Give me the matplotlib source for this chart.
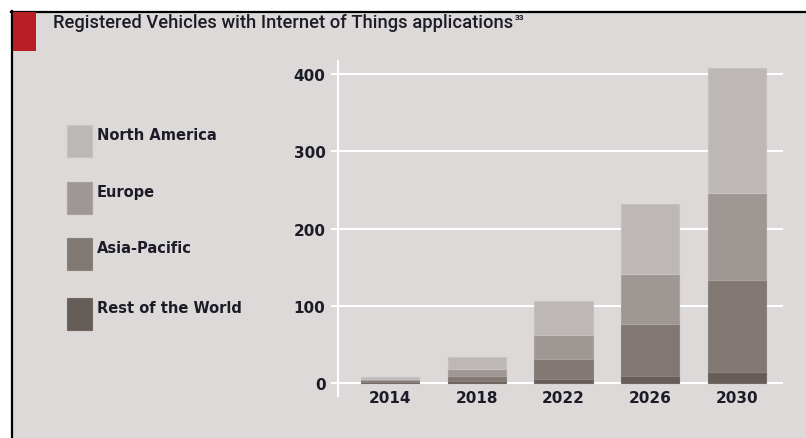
import matplotlib
matplotlib.use("Agg")
import matplotlib.pyplot as plt
from matplotlib.patches import Rectangle
import numpy as np

years = ["2014", "2018", "2022", "2026", "2030"]
rest_of_world = [1, 3.5, 5, 10, 15]
asia_pacific = [3, 6.5, 26.5, 67, 119]
europe = [2, 8.5, 31.5, 64, 112]
north_america = [2, 16, 44, 91, 162]
series_names = ["Rest of the World", "Asia-Pacific", "Europe", "North America"]
yticks = [0, 100, 200, 300, 400]
title = "Registered Vehicles with Internet of Things applications"
footnote = "33"

colors = {"North America": "#bdb8b5", "Europe": "#9f9793", "Asia-Pacific": "#817873", "Rest of the World": "#675d58"}
edge = {"North America": "#c6c2bf", "Europe": "#aaa29e", "Asia-Pacific": "#8c837e", "Rest of the World": "#726863"}
bg = "#dcd9d8"
txt = "#1c1c28"
bold_font = ["DejaVu Sans"]

fig = plt.figure(figsize=(8.06, 4.39), dpi=100)
W, H = 806, 439
# background panel and frame
fig.patches.append(Rectangle((12 / W, 0), 1, 1 - 13 / H, transform=fig.transFigure, facecolor=bg, edgecolor="none", zorder=-5))
fig.add_artist(plt.Line2D([11.5 / W, 11.5 / W], [0, 1 - 12 / H], transform=fig.transFigure, color="black", lw=1.6, zorder=-4))
fig.add_artist(plt.Line2D([11 / W, 1], [1 - 12.5 / H, 1 - 12.5 / H], transform=fig.transFigure, color="black", lw=1.6, zorder=-4))
fig.patches.append(Rectangle((12.5 / W, 1 - 52 / H), 23 / W, 39 / H, transform=fig.transFigure, facecolor="#b81f24", edgecolor="none", zorder=-3))
fig.text(53 / W, 1 - 23 / H, title, fontsize=13.2, family=["Roboto", "DejaVu Sans"], fontweight="medium", color=txt, va="center", ha="left")

ax = fig.add_axes([338 / W, 1 - 397 / H, (783 - 338) / W, (397 - 62) / H])
ax.set_zorder(5)
ax.set_facecolor("none")
x = np.arange(len(years))
bottom = np.zeros(len(years))
data = {"Rest of the World": rest_of_world, "Asia-Pacific": asia_pacific, "Europe": europe, "North America": north_america}
for name in series_names:
    vals = np.array(data[name], dtype=float)
    ax.bar(x, vals, width=0.67, bottom=bottom, color=colors[name], edgecolor=edge[name], linewidth=0.8, zorder=3)
    bottom += vals

ax.set_xlim(-0.6, 4.53)
ax.set_ylim(-16.5, 417)
ax.set_yticks(yticks)
ax.set_yticklabels([str(t) for t in yticks])
ax.set_xticks(x)
ax.set_xticklabels(years)
ax.yaxis.grid(True, color="white", lw=1.5, zorder=1)
ax.set_axisbelow(True)
for s in ["top", "right", "bottom"]:
    ax.spines[s].set_visible(False)
ax.spines["left"].set_color("white")
ax.spines["left"].set_linewidth(1.5)
ax.tick_params(axis="y", length=5, width=1.5, color="white", pad=4, labelsize=11, labelcolor=txt)
ax.tick_params(axis="x", length=0, pad=-4, labelsize=11, labelcolor=txt)
for lab in ax.get_xticklabels() + ax.get_yticklabels():
    lab.set_fontweight("bold")
    lab.set_family(bold_font)

# title footnote placed right after the title
fig.canvas.draw()
t_artist = [t for t in fig.texts if t.get_text() == title][0]
bb = t_artist.get_window_extent()
fig.text((bb.x1 + 2) / W, 1 - 18 / H, footnote, fontsize=6, family=["Roboto", "DejaVu Sans"], fontweight="bold", color=txt, va="center", ha="left")

# legend
legend_order = ["North America", "Europe", "Asia-Pacific", "Rest of the World"]
tops = [126, 183, 239, 299]
for name, t in zip(legend_order, tops):
    fig.patches.append(Rectangle((67 / W, 1 - (t + 32) / H), 25 / W, 32 / H, transform=fig.transFigure,
                                 facecolor=colors[name], edgecolor=edge[name], lw=0.8, zorder=2))
    fig.text(97 / W, 1 - (t + 10) / H, name, fontsize=10.5, fontweight="bold", family=bold_font, color=txt, va="center", ha="left")

fig.savefig("out.png", dpi=100)
